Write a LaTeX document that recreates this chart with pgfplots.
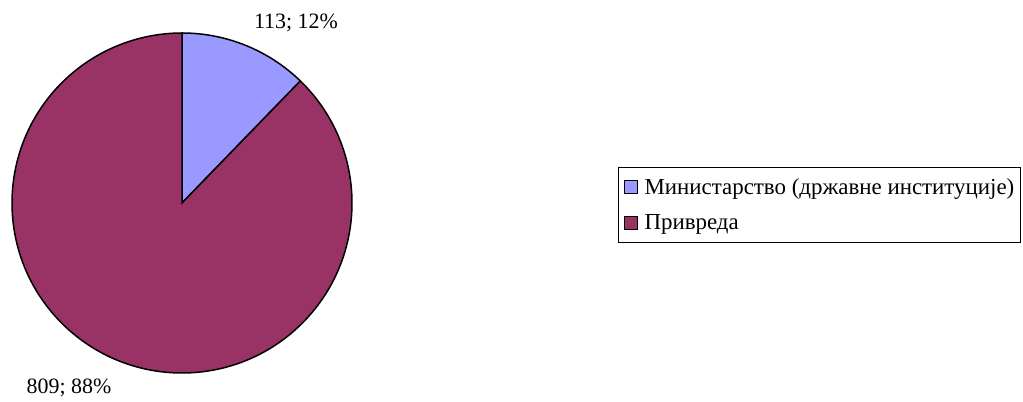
\documentclass[border=0pt]{standalone}
\usepackage{fontspec}
\setmainfont{Liberation Serif}
\usepackage{pgfplots}
\usepackage{pgfplotstable}
\pgfplotsset{compat=1.18}
\definecolor{sliceA}{HTML}{9999FF}
\definecolor{sliceB}{HTML}{993366}
\pgfplotstableread{
label value
A 113
B 809
}\piedata
\begin{document}
\begin{tikzpicture}[font=\fontsize{22}{26}\selectfont]
\pgfplotstablegetelem{0}{value}\of\piedata\let\va\pgfplotsretval
\pgfplotstablegetelem{1}{value}\of\piedata\let\vb\pgfplotsretval
\pgfmathsetmacro\total{\va+\vb}
\pgfmathsetmacro\fracA{\va/\total}
\pgfmathsetmacro\angA{90-360*\fracA}
\pgfmathtruncatemacro\pctA{round(100*\fracA)}
\pgfmathtruncatemacro\pctB{100-\pctA}
\begin{axis}[width=1023bp,height=402bp,scale only axis,
  xmin=0,xmax=1023,ymin=0,ymax=402,hide axis,clip=false,
  legend style={at={(axis cs:618,235)},anchor=north west,draw=black,line width=1bp,
    font=\fontsize{23}{27}\selectfont,row sep=17bp,inner xsep=5bp,inner ysep=10bp,
    nodes={inner sep=1bp}},
  legend image code/.code={\draw[#1,draw=black,line width=1bp] (0bp,-6bp) rectangle (13bp,7bp);
    \path (19bp,0bp);},
  legend cell align=left]
\addlegendimage{fill=sliceA}
\addlegendentry{Министарство (државне институције)}
\addlegendimage{fill=sliceB}
\addlegendentry{Привреда}
\path[fill=sliceA,draw=black,line width=1.5bp] (axis cs:182,199) -- ++(90:170bp)
  arc[start angle=90,end angle=\angA,radius=170bp] -- cycle;
\path[fill=sliceB,draw=black,line width=1.5bp] (axis cs:182,199) -- ++(\angA:170bp)
  arc[start angle=\angA,end angle=-270,radius=170bp] -- cycle;
\node at (axis cs:296,379) {\va; \pctA\%};
\node at (axis cs:69,14) {\vb; \pctB\%};
\end{axis}
\pgfresetboundingbox
\path (current axis.south west) rectangle (current axis.north east);
\end{tikzpicture}
\end{document}
